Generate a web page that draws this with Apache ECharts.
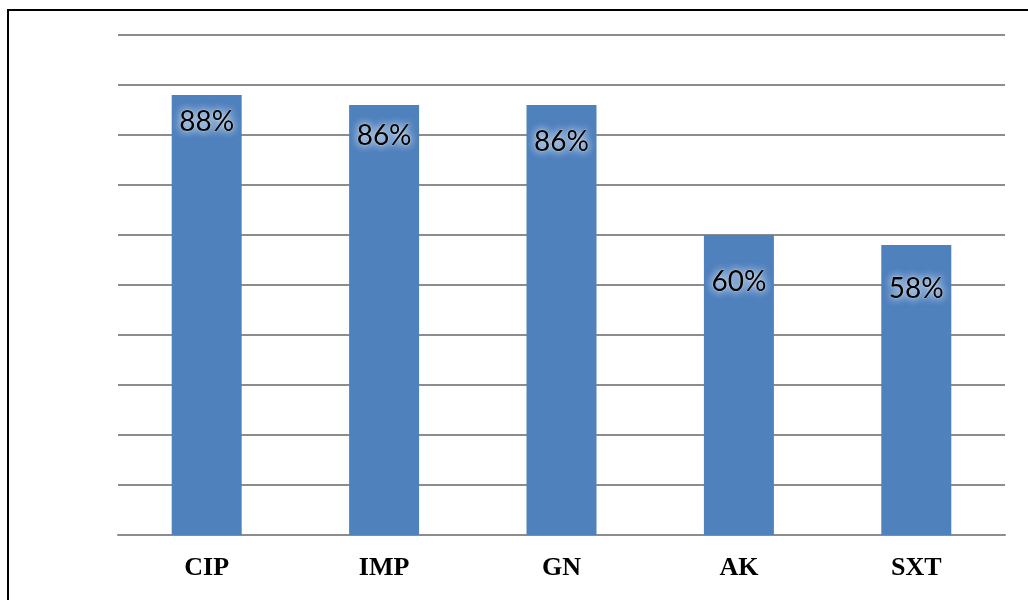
<!DOCTYPE html>
<html>
<head>
<meta charset="utf-8">
<script src="https://cdn.jsdelivr.net/npm/echarts@6/dist/echarts.min.js"></script>
<style>
  html, body { margin: 0; padding: 0; background: #fff; }
  #chart { width: 1028px; height: 600px; }
</style>
</head>
<body>
<div id="chart"></div>
<script>
// Antibiotic resistance rates (%)
const categories = ['CIP', 'IMP', 'GN', 'AK', 'SXT'];
const rates = [88, 86, 86, 60, 58];

// Extra downward shift of each value label inside its bar (px)
const labelShift = [0, 4, 10, 20, 17];

const chart = echarts.init(document.getElementById('chart'));

chart.setOption({
  animation: false,
  backgroundColor: '#ffffff',
  graphic: [{
    type: 'rect',
    shape: { x: 8, y: 10, width: 1100, height: 700 },
    style: { fill: 'none', stroke: '#000', lineWidth: 2 },
    silent: true,
    z: 100
  }],
  grid: { left: 118, right: 23, top: 35, bottom: 65 },
  xAxis: {
    type: 'category',
    data: categories,
    axisLine: { lineStyle: { color: '#8c8c8c', width: 2 } },
    axisTick: { show: false },
    axisLabel: {
      margin: 20,
      fontFamily: 'Liberation Serif',
      fontWeight: 'bold',
      fontSize: 26,
      color: '#000'
    }
  },
  yAxis: {
    type: 'value',
    min: 0, max: 100, interval: 10,
    axisLine: { show: false },
    axisTick: { show: false },
    axisLabel: { show: false },
    splitLine: { lineStyle: { color: '#8c8c8c', width: 2 } }
  },
  series: [{
    type: 'bar',
    barWidth: 70,
    itemStyle: { color: '#4F81BD' },
    data: rates.map((v, i) => ({
      value: v,
      label: { offset: [0, labelShift[i]] }
    })),
    label: {
      show: true,
      position: 'insideTop',
      distance: 13,
      formatter: '{c}%',
      fontFamily: 'Lato',
      fontSize: 28,
      color: '#000',
      textBorderColor: 'rgba(200,220,240,0.5)',
      textBorderWidth: 1,
      textShadowColor: 'rgba(245,250,255,1)',
      textShadowBlur: 8
    }
  }]
});
</script>
</body>
</html>
